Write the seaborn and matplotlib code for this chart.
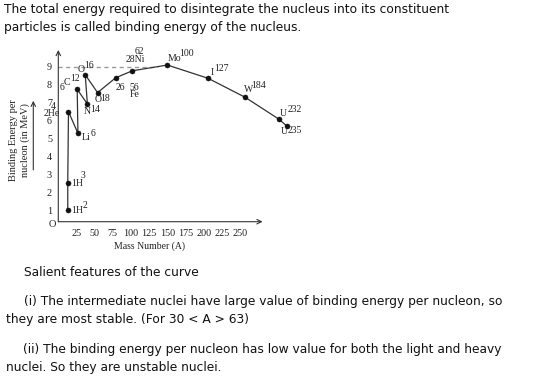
import matplotlib
matplotlib.use("Agg")
import matplotlib.pyplot as plt
import seaborn as sns
import pandas as pd

# ---- data ----
mass_number = [13, 13, 14, 27, 26, 40, 37, 54, 79, 102, 150, 206, 257, 303, 314]
binding_energy = [1.0, 2.52, 6.49, 5.28, 7.73, 6.92, 8.55, 7.55, 8.38, 8.77, 9.09, 8.35, 7.29, 6.08, 5.70]
x_ticks = [25, 50, 75, 100, 125, 150, 175, 200, 225, 250]
y_ticks = [1, 2, 3, 4, 5, 6, 7, 8, 9]

label_texts = ["1H", "2", "1H", "3", "2He", "4", "Li", "6", "6", "C", "12", "N", "14",
               "O", "16", "O", "18", "26", "56", "Fe", "62", "28Ni", "Mo", "100",
               "I", "127", "W", "184", "U", "232", "U", "235"]

top_lines = ["The total energy required to disintegrate the nucleus into its constituent",
             "particles is called binding energy of the nucleus."]
bottom_lines = ["Salient features of the curve",
                "(i) The intermediate nuclei have large value of binding energy per nucleon, so",
                "they are most stable. (For 30 < A > 63)",
                "(ii) The binding energy per nucleon has low value for both the light and heavy",
                "nuclei. So they are unstable nuclei."]

# ---- layout (figure pixels, y from top) ----
label_pos = [(77, 210), (85, 205), (77, 183), (83, 175), (51.5, 114.0), (53.2, 106.8), (86, 137), (92.7, 134),
             (62.3, 87), (67.3, 82.7), (74.8, 78.8), (87.3, 111.7), (95, 110),
             (81, 69.3), (89.3, 65), (97.7, 100), (105.3, 98.3), (120.7, 87.7), (134, 87.2), (134.3, 94.8),
             (139.3, 51.4), (135.7, 59.5), (175, 58.3), (186.7, 53.3),
             (212.7, 72.7), (221, 68.3), (248.3, 90), (259, 85), (283.3, 113.3), (294.3, 110),
             (284, 131.7), (295.3, 130.7)]
top_pos = [(4, 10), (4, 28)]
bottom_pos = [(24, 272), (24, 302), (6, 320), (23, 349.5), (6, 367.5)]

W, H = 559, 380
sns.set_theme(style="white")
plt.rcParams["font.family"] = ["Liberation Serif", "DejaVu Serif"]

fig = plt.figure(figsize=(W / 100, H / 100), dpi=100)
left_px, right_px, top_px, bot_px = 58.3, 300, 50, 221.7
ax = fig.add_axes([left_px / W, 1 - bot_px / H, (right_px - left_px) / W, (bot_px - top_px) / H])
ax.set_facecolor("none")

x_max = (right_px - left_px) / 0.727
y_lo = 1 + (210 - bot_px) / 17.92
y_hi = 1 + (210 - top_px) / 17.92
ax.set_xlim(0, x_max)
ax.set_ylim(y_lo, y_hi)

df = pd.DataFrame({"A": mass_number, "E": binding_energy})
ax.hlines(9, 0, 137, colors="#9a9a9a", linestyles=(0, (3, 2.5)), lw=1.0)
sns.lineplot(data=df, x="A", y="E", sort=False, estimator=None, ax=ax, color="#333333",
             lw=0.9, marker="o", markersize=3.6, markeredgewidth=0.4, markeredgecolor="#111111",
             markerfacecolor="#111111", legend=False)

for s in ax.spines.values():
    s.set_visible(False)
arrow_kw = dict(arrowstyle="->", lw=0.8, color="#333333", shrinkA=0, shrinkB=0, mutation_scale=8)
ax.annotate("", xy=(281, y_lo), xytext=(0, y_lo), arrowprops=arrow_kw, annotation_clip=False)
ax.annotate("", xy=(0, y_hi), xytext=(0, y_lo), arrowprops=arrow_kw, annotation_clip=False)

ax.set_xticks(x_ticks)
ax.set_xticklabels([str(t) for t in x_ticks])
ax.set_yticks(y_ticks)
ax.set_yticklabels([str(t) for t in y_ticks])
ax.tick_params(axis="both", direction="inout", length=4, width=0.7, color="#333333",
               labelsize=7.3, labelcolor="#222222")
ax.tick_params(axis="x", pad=3)
ax.tick_params(axis="y", pad=2.5)
ax.set_xlabel("Mass Number (A)", fontsize=7, color="#222222")
ax.set_ylabel("Binding Energy per\nnucleon (in MeV)", fontsize=7.5, color="#222222", linespacing=1.35)
ax.xaxis.set_label_coords((150 - left_px) / (right_px - left_px), (bot_px - 246) / (bot_px - top_px))
ax.xaxis.label.set_va("center")
ax.yaxis.set_label_coords((19.5 - left_px) / (right_px - left_px), (bot_px - 140) / (bot_px - top_px))
ax.yaxis.label.set_va("center")

fig.text(52.7 / W, 1 - 225 / H, "O", fontsize=7.5, ha="center", va="center", color="#222222")
fig.add_artist(plt.matplotlib.patches.FancyArrowPatch((33.3 / W, 1 - 172.7 / H), (33.3 / W, 1 - 98 / H),
                                                      transform=fig.transFigure, arrowstyle="->",
                                                      mutation_scale=8, lw=0.8, color="#333333"))

for txt, (px, py) in zip(label_texts, label_pos):
    fig.text(px / W, 1 - py / H, txt, fontsize=7.0, ha="center", va="center", color="#222222")

sans = ["DejaVu Sans"]
for txt, (px, py) in zip(top_lines, top_pos):
    fig.text(px / W, 1 - py / H, txt, fontsize=8.85, ha="left", va="center", color="#111111", family=sans)
for txt, (px, py) in zip(bottom_lines, bottom_pos):
    fig.text(px / W, 1 - py / H, txt, fontsize=8.85, ha="left", va="center", color="#111111", family=sans)

fig.savefig("out.png", dpi=100)
